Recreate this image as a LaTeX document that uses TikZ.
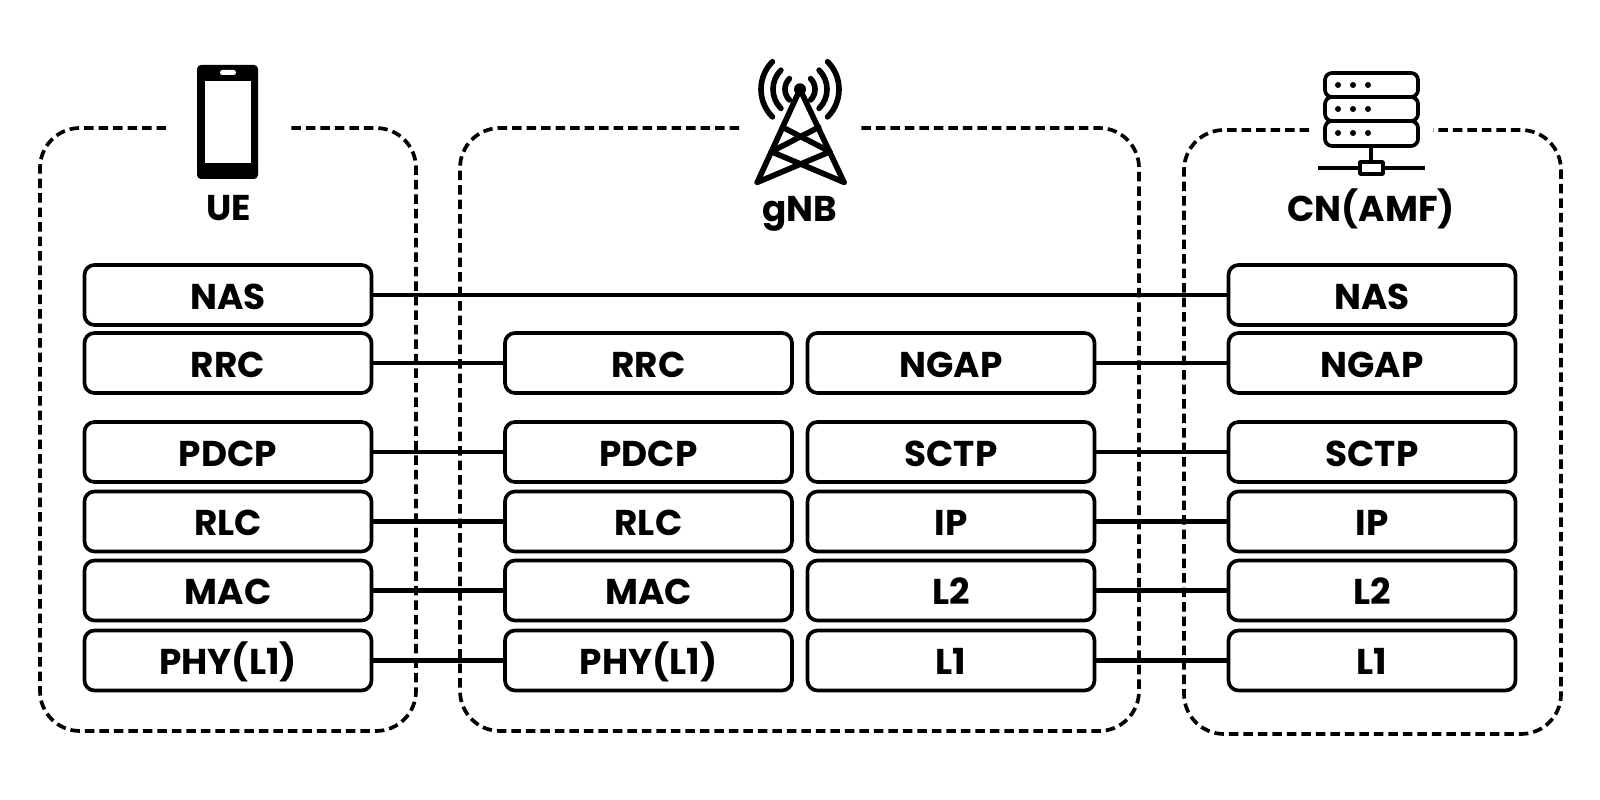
\documentclass[tikz,border=0pt]{standalone}
\usepackage{fontspec}
\setmainfont{Poppins}
\begin{document}
\begin{tikzpicture}[line join=round]
        \tikzstyle{layer}=[draw=black,rectangle,rounded corners=1mm,line width=1.05pt,minimum width=2.87cm,minimum height=0.60cm,font=\fontsize{10.2}{12}\selectfont\bfseries,inner sep=0pt,text height=2.9mm,text depth=0mm]
        \tikzstyle{title}=[font=\fontsize{10.2}{12}\selectfont\bfseries,inner sep=0pt,text height=2.9mm,text depth=0mm]
        \tikzstyle{edge}=[draw,line width=1.35pt]
        \tikzstyle{group}=[draw,line width=1.05pt,dash pattern=on 0.95mm off 0.5mm,rounded corners=4mm]
        \tikzstyle{icon}=[draw,line width=1.6pt,line cap=round]
        \tikzstyle{server}=[draw,line width=1.05pt,rounded corners=0.7mm]
       \useasboundingbox (0,0) rectangle (16,8);
       \begin{scope}
         \draw [group] (1.66,6.72) -- (0.40,6.72) -- (0.40,0.69) -- (4.16,0.69) -- (4.16,6.72) -- (2.90,6.72);
         \draw [group] (7.39,6.72) -- (4.60,6.72) -- (4.60,0.69) -- (11.39,0.69) -- (11.39,6.72) -- (8.61,6.72);
         \draw [group] (13.09,6.70) -- (11.84,6.70) -- (11.84,0.66) -- (15.61,0.66) -- (15.61,6.70) -- (14.33,6.70);
        \end{scope}
       \begin{scope}
         \node [layer] (ue1) at (2.28,5.05) {NAS};
         \node [layer] (ue2) at (2.28,4.37) {RRC};
         \node [layer] (ue3) at (2.28,3.48) {PDCP};
         \node [layer] (ue4) at (2.28,2.785) {RLC};
         \node [layer] (ue5) at (2.28,2.095) {MAC};
         \node [layer] (ue6) at (2.28,1.395) {PHY(L1)};

         \node [layer] (ran2) at (6.485,4.37) {RRC};
         \node [layer] (ran3) at (6.485,3.48) {PDCP};
         \node [layer] (ran4) at (6.485,2.785) {RLC};
         \node [layer] (ran5) at (6.485,2.095) {MAC};
         \node [layer] (ran6) at (6.485,1.395) {PHY(L1)};

         \node [layer] (ng2) at (9.51,4.37) {NGAP};
         \node [layer] (ng3) at (9.51,3.48) {SCTP};
         \node [layer] (ng4) at (9.51,2.785) {IP};
         \node [layer] (ng5) at (9.51,2.095) {L2};
         \node [layer] (ng6) at (9.51,1.395) {L1};

         \node [layer] (cn1) at (13.72,5.05) {NAS};
         \node [layer] (cn2) at (13.72,4.37) {NGAP};
         \node [layer] (cn3) at (13.72,3.48) {SCTP};
         \node [layer] (cn4) at (13.72,2.785) {IP};
         \node [layer] (cn5) at (13.72,2.095) {L2};
         \node [layer] (cn6) at (13.72,1.395) {L1};

         \path[edge] (ue1) edge (cn1);
         \path[edge] (ue2) edge (ran2);
         \path[edge] (ue3) edge (ran3);
         \path[edge] (ue4) edge (ran4);
         \path[edge] (ue5) edge (ran5);
         \path[edge] (ue6) edge (ran6);

         \path[edge] (ng2) edge (cn2);
         \path[edge] (ng3) edge (cn3);
         \path[edge] (ng4) edge (cn4);
         \path[edge] (ng5) edge (cn5);
         \path[edge] (ng6) edge (cn6);

         \node [title] (uetitle) at (2.29,5.94) {UE};
         \node [title] (rantitle) at (8.00,5.93) {gNB};
         \node [title] (cntitle) at (13.71,5.93) {CN(AMF)};
        \end{scope}
       % phone
       \begin{scope}
         \fill [rounded corners=0.4mm] (1.97,7.35) rectangle (2.58,6.21);
         \fill [white] (2.05,7.19) rectangle (2.51,6.37);
         \fill [white,rounded corners=0.25mm] (2.20,7.30) rectangle (2.36,7.25);
        \end{scope}
       % tower
       \begin{scope}
         \fill (8.00,7.107) circle (0.06);
         \path[icon] (7.573,6.177) -- (8.00,7.107) -- (8.44,6.177);
         \path[icon] (7.827,6.727) -- (8.30,6.483) -- (7.573,6.177);
         \path[icon] (8.187,6.727) -- (7.713,6.483) -- (8.44,6.177);
         \path[icon] (8.00,7.107) ++(135:0.39) arc (135:225:0.39);
         \path[icon] (8.00,7.107) ++(135:0.27) arc (135:225:0.27);
         \path[icon] (8.00,7.107) ++(135:0.15) arc (135:225:0.15);
         \path[icon] (8.00,7.107) ++(45:0.39) arc (45:-45:0.39);
         \path[icon] (8.00,7.107) ++(45:0.27) arc (45:-45:0.27);
         \path[icon] (8.00,7.107) ++(45:0.15) arc (45:-45:0.15);
        \end{scope}
       % server
       \begin{scope}
         \path[server] (13.25,7.27) rectangle (14.18,7.03);
         \path[server] (13.25,7.03) rectangle (14.18,6.79);
         \path[server] (13.25,6.79) rectangle (14.18,6.54);
         \fill (13.38,7.15) circle (0.03);
         \fill (13.53,7.15) circle (0.03);
         \fill (13.68,7.15) circle (0.03);
         \fill (13.38,6.91) circle (0.03);
         \fill (13.53,6.91) circle (0.03);
         \fill (13.68,6.91) circle (0.03);
         \fill (13.38,6.67) circle (0.03);
         \fill (13.53,6.67) circle (0.03);
         \fill (13.68,6.67) circle (0.03);
         \draw [line width=1.05pt] (13.71,6.54) -- (13.71,6.38);
         \draw [line width=1.05pt] (13.18,6.32) -- (14.25,6.32);
         \draw [line width=1.05pt,fill=white] (13.60,6.38) rectangle (13.83,6.26);
        \end{scope}
      \end{tikzpicture}
\end{document}
